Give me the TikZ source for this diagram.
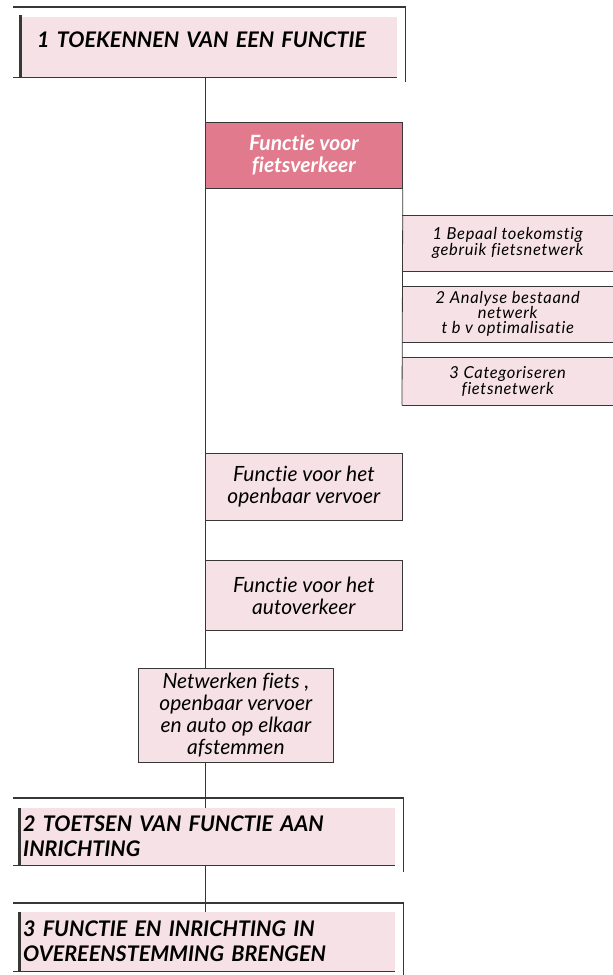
\documentclass[tikz,border=0pt]{standalone}
\usepackage{fontspec}
\setmainfont{Lato}[Ligatures=NoCommon]
\usetikzlibrary{calc}
\definecolor{palepink}{RGB}{246,226,230}
\definecolor{darkpink}{RGB}{226,122,141}
\definecolor{linec}{RGB}{55,55,55}
\begin{document}
\begin{tikzpicture}[x=1pt,y=-1pt,
  hbox/.style={fill=palepink, anchor=north west, align=left, inner ysep=0pt,
    font=\fontsize{21.5}{25}\selectfont\bfseries\itshape},
  frame/.style={draw=linec, line width=1.5pt},
  lframe/.style={draw=linec, line width=3pt},
  fbox/.style={fill=palepink, draw=linec, line width=0.8pt, anchor=north west,
    align=center, inner sep=2pt, font=\fontsize{21}{22}\selectfont\itshape},
  sbox/.style={fill=palepink, anchor=north west, align=center, inner sep=0pt,
    minimum width=211pt, font=\fontsize{16.5}{15}\selectfont\itshape\addfontfeatures{LetterSpace=4}},
  sline/.style={draw=linec, line width=0.8pt},
  trunk/.style={draw=linec, line width=1pt}]
\useasboundingbox (0,0) rectangle (613,975);
\coordinate (tx) at (205,0);

% heading boxes
\node[hbox, text width=342pt, inner xsep=18pt, minimum height=60pt,
      text height=15pt, text depth=14pt] (h1) at (19,17) {1 TOEKENNEN VAN EEN FUNCTIE};
\node[hbox, text width=368pt, inner xsep=4pt, minimum height=57pt] (h2) at (19,808)
  {2 TOETSEN VAN FUNCTIE AAN\\INRICHTING};
\node[hbox, text width=368pt, inner xsep=4pt, minimum height=59pt] (h3) at (19,912)
  {3 FUNCTIE EN INRICHTING IN\\OVEREENSTEMMING BRENGEN};

% heading frames
\draw[frame] ($(h1.north west)+(-6,-10)$) -- ($(h1.north east)+(8,-10)$) -- ($(h1.south east)+(8,5)$);
\draw[frame] ($(h1.south west)+(-6,0)$) -- (h1.south east);
\draw[lframe] ($(h1.north west)+(1.5,-2)$) -- ($(h1.south west)+(1.5,0)$);

\draw[frame] ($(h2.north west)+(-6,-10)$) -- ($(h2.north east)+(8,-10)$) -- ($(h2.south east)+(8,7)$);
\draw[frame] ($(h2.south west)+(-6,0)$) -- (h2.south east);
\draw[lframe] ($(h2.north west)+(0,0)$) -- ($(h2.south west)+(0,0)$);

\draw[frame] ($(h3.north west)+(-6,-9)$) -- ($(h3.north east)+(8,-9)$) -- ($(h3.south east)+(8,4)$);
\draw[frame] ($(h3.south west)+(-6,0)$) -- (h3.south east);
\draw[lframe] ($(h3.north west)+(0,0)$) -- ($(h3.south west)+(0,0)$);

% function boxes
\node[fbox, fill=darkpink, text=white, font=\fontsize{21}{22}\selectfont\bfseries\itshape,
      minimum width=197pt, minimum height=66pt] (fiets) at (205,122)
  {Functie voor\\fietsverkeer};
\node[fbox, minimum width=197pt, minimum height=67pt] (ov) at (205,453)
  {Functie voor het\\openbaar vervoer};
\node[fbox, minimum width=197pt, minimum height=70pt] (auto) at (205,560)
  {Functie voor het\\autoverkeer};
\node[fbox, minimum width=195pt, minimum height=94pt] (net) at (138,668)
  {Netwerken fiets ,\\openbaar vervoer\\en auto op elkaar\\afstemmen};

% sub boxes
\node[sbox, minimum height=56pt] (s1) at (402,215) {1 Bepaal toekomstig\\gebruik fietsnetwerk};
\node[sbox, minimum height=56pt] (s2) at (402,286) {2 Analyse bestaand\\netwerk\\t b v optimalisatie};
\node[sbox, minimum height=48pt] (s3) at (402,357) {3 Categoriseren\\fietsnetwerk};
\foreach \s in {s1,s2,s3}{
  \draw[sline] (\s.north west) -- (\s.north east);
  \draw[sline] (\s.south west) -- (\s.south east);
}

% connectors
\draw[trunk] (h1.south -| tx) -- (net.north -| tx);
\draw[trunk] (net.south -| tx) -- (h2.north -| tx);
\draw[trunk] (h2.south -| tx) -- (h3.north -| tx);
\draw[sline] (fiets.south east) -- (s3.south west);
\end{tikzpicture}
\end{document}
